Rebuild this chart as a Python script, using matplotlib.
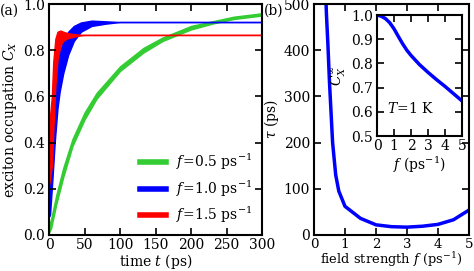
import matplotlib
matplotlib.use("Agg")
import matplotlib.pyplot as plt
import numpy as np

plt.rcParams["font.family"] = ["DejaVu Serif"]
plt.rcParams["mathtext.fontset"] = "dejavuserif"
plt.rcParams["font.size"] = 10

# panel (a): oscillation envelopes (lower / upper)
t_green = [0, 3, 10, 20, 33, 50, 67, 100, 133, 160, 200, 230, 260, 300]
lo_green = [0.01, 0.03, 0.13, 0.25, 0.385, 0.50, 0.59, 0.71, 0.79, 0.84, 0.89, 0.915, 0.935, 0.95]
hi_green = [0.04, 0.07, 0.17, 0.29, 0.415, 0.53, 0.615, 0.73, 0.81, 0.855, 0.905, 0.925, 0.945, 0.96]

t_blue = [0, 1.5, 5, 8, 12, 15, 20, 27, 35, 45, 60, 80, 100, 300]
lo_blue = [0.08, 0.09, 0.25, 0.40, 0.55, 0.62, 0.70, 0.78, 0.84, 0.88, 0.905, 0.915, 0.922, 0.922]
hi_blue = [0.10, 0.25, 0.50, 0.62, 0.74, 0.79, 0.84, 0.88, 0.905, 0.92, 0.928, 0.925, 0.922, 0.922]

t_red = [0, 1, 4, 6, 9, 12, 16, 20, 25, 30, 40, 50, 300]
lo_red = [0.22, 0.24, 0.30, 0.45, 0.65, 0.76, 0.82, 0.84, 0.85, 0.855, 0.862, 0.866, 0.866]
hi_red = [0.30, 0.50, 0.60, 0.75, 0.85, 0.88, 0.885, 0.88, 0.875, 0.872, 0.868, 0.866, 0.866]

labels_a = [r"$f\!=\!0.5$ ps$^{-1}$", r"$f\!=\!1.0$ ps$^{-1}$", r"$f\!=\!1.5$ ps$^{-1}$"]
colors_a = ["#33cc33", "#0000ff", "#ff0000"]

# panel (b): relaxation time vs field strength
f_tau = [0.35, 0.40, 0.45, 0.50, 0.60, 0.70, 0.80, 1.0, 1.5, 2.0, 2.5, 3.0, 3.5, 4.0, 4.5, 5.0]
tau = [580, 480, 410, 330, 200, 130, 95, 62, 36, 22, 18, 17, 19, 23, 33, 54]

# inset: stationary occupation
f_inf = [0, 0.25, 0.5, 0.75, 1.0, 1.25, 1.5, 1.75, 2.0, 2.5, 3.0, 3.5, 4.0, 4.5, 5.0]
c_inf = [1.0, 0.995, 0.985, 0.968, 0.943, 0.912, 0.882, 0.855, 0.833, 0.795, 0.763, 0.733, 0.705, 0.675, 0.645]

W, H = 474, 271
fig = plt.figure(figsize=(W / 100, H / 100), dpi=100)


def frac(x0, y0, x1, y1):
    return [x0 / W, 1 - y1 / H, (x1 - x0) / W, (y1 - y0) / H]


def style(ax):
    ax.tick_params(direction="in", top=True, right=True, length=5, width=1.2, pad=3)
    ax.tick_params(axis="x", pad=2.5)
    for s in ax.spines.values():
        s.set_linewidth(1.5)


ax_a = fig.add_axes(frac(49, 4, 262, 235))
series = [(t_green, lo_green, hi_green), (t_blue, lo_blue, hi_blue), (t_red, lo_red, hi_red)]
for (t, lo, hi), c, lab in zip(series, colors_a, labels_a):
    ax_a.fill_between(t, lo, hi, color=c, lw=1.0)
    ax_a.plot([], [], color=c, lw=4, label=lab)
ax_a.set_xlim(0, 300)
ax_a.set_ylim(0, 1)
ax_a.set_xticks(np.arange(0, 301, 50))
ax_a.set_yticks(np.arange(0, 1.01, 0.2))
ax_a.set_xlabel(r"time $t$ (ps)", labelpad=-0.5)
ax_a.set_ylabel(r"exciton occupation $C_X$", labelpad=3)
ax_a.legend(loc="lower right", frameon=False, handlelength=1.9, labelspacing=0.45,
            handletextpad=0.7, borderaxespad=0.3)
style(ax_a)
fig.text(0 / W, 1 - 11 / H, "(a)", va="center", ha="left")

ax_b = fig.add_axes(frac(314, 4, 469, 235))
ax_b.plot(f_tau, tau, color="#0000ff", lw=2.5)
ax_b.set_xlim(0, 5)
ax_b.set_ylim(0, 500)
ax_b.set_xticks(range(6))
ax_b.set_yticks(range(0, 501, 100))
ax_b.set_xlabel(r"field strength $f$ (ps$^{-1}$)", labelpad=-0.3, fontsize=9.4)
ax_b.set_ylabel(r"$\tau$ (ps)", labelpad=2)
style(ax_b)
ax_b.tick_params(axis="x", pad=2, labelsize=9.6)
fig.text(264 / W, 1 - 11 / H, "(b)", va="center", ha="left")

ax_in = fig.add_axes(frac(377, 15, 462, 136))
ax_in.plot(f_inf, c_inf, color="#0000ff", lw=2.5)
ax_in.set_xlim(0, 5)
ax_in.set_ylim(0.5, 1.0)
ax_in.set_xticks(range(6))
ax_in.set_yticks(np.arange(0.5, 1.01, 0.1))
ax_in.set_xlabel(r"$f$ (ps$^{-1}$)", labelpad=1)
ax_in.set_ylabel(r"$C_X^\infty$", labelpad=2)
ax_in.text(2.0, 0.615, r"$T\!=\!1$ K", ha="center", va="center")
style(ax_in)

fig.savefig("out.png", dpi=100)
